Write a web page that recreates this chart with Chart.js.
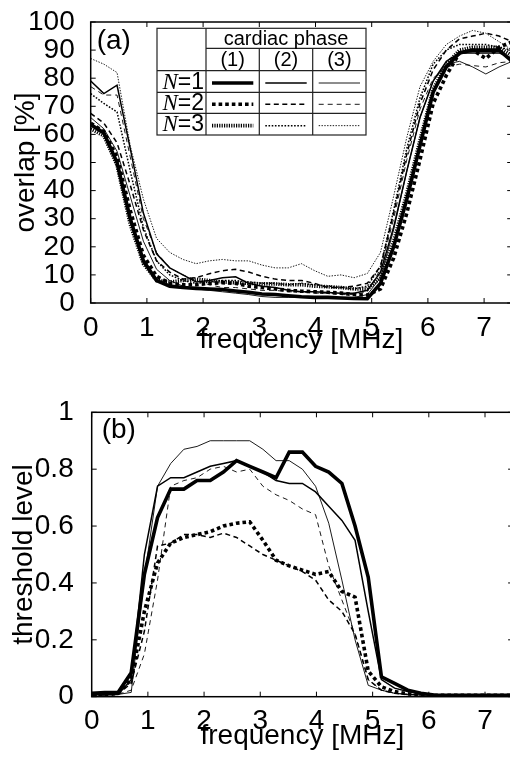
<!DOCTYPE html>
<html><head><meta charset="utf-8">
<script src="https://cdn.jsdelivr.net/npm/chart.js@4.4.1/dist/chart.umd.min.js"></script>
<style>
html,body{margin:0;padding:0;background:#fff;width:510px;height:758px;overflow:hidden;position:relative;}
canvas{position:absolute;left:0;}
#ca{top:0;} #cb{top:380px;}
</style></head><body>
<canvas id="ca" width="514" height="360"></canvas>
<canvas id="cb" width="514" height="378"></canvas>
<script>
// ---------- data ----------
const freq = [0, 0.2344, 0.4688, 0.7031, 0.9375, 1.1719, 1.4063, 1.6406, 1.875, 2.1094, 2.3438, 2.5781, 2.8125, 3.0469, 3.2813, 3.5156, 3.75, 3.9844, 4.2188, 4.4531, 4.6875, 4.9219, 5.1563, 5.3906, 5.625, 5.8594, 6.0938, 6.3281, 6.5625, 6.7969, 7.0313, 7.2656, 7.5];
const xTicks = [0, 1, 2, 3, 4, 5, 6, 7];
const overlapTicks = [0, 10, 20, 30, 40, 50, 60, 70, 80, 90, 100];
const thresholdTicks = [0, 0.2, 0.4, 0.6, 0.8, 1];
const thresholdTickLabels = ['0', '0.2', '0.4', '0.6', '0.8', '1'];
const phaseLabels = ['(1)', '(2)', '(3)'];
const nLabels = ['1', '2', '3'];

// overlap [%]  (panel a)   N = 1..3, cardiac phase (1)..(3)
const overlapN1P1 = [63.5,60.5,50,30,15,8,6,5.5,5.2,5,4.8,4.3,3.8,3.2,3,2.6,2.2,2,2,1.8,1.6,1.5,7,20,37,56,75,84,89,90,90,90,86];
const overlapN1P2 = [79,74.5,77.5,55,32,17.5,12.5,10,7.5,8,9,9.3,7,6,5.5,4.5,4,4,3.7,3.5,3.5,4.5,11,27,47,66,79,86,89,89,89,89,87];
const overlapN1P3 = [66,62,54,38,22,12,8,6,5,4.5,4,3.5,3,2.3,2,2,2,2,2,2,2,3,9,26,47,66,79,85,86,84,81.5,84,86];
const overlapN2P1 = [64,61,52,33,17,9.5,7,6.5,6.5,7,7.2,7,6,5.5,5,4.5,4.2,4,3.8,3.5,3,2.8,5,16,32,51,71,81,89,90,87,91,93];
const overlapN2P2 = [67.5,64,57,42,26,15,11,8.5,9,10.4,11.5,12,11,9.5,8.5,8,8,7,5.5,5.5,6,7,13,32,53,71,83,90,94,95,96,95,93];
const overlapN2P3 = [77,74,74,52,30,18,12.5,10,8,6.5,5.5,5.5,5,4.5,4.5,4,4,3.5,3.5,3,3,4,12,30,51,69,80,84,85,84.5,84,85.5,86];
const overlapN3P1 = [62,59.5,49,28,14,8,7.5,8,8.5,8,7.5,7.2,7,6.8,6.8,6.5,6.5,6,5.8,5.5,5,5,9,22,39,58,76,85,90,91,91,91,88];
const overlapN3P2 = [74.5,71,68,47,27,15,10,8,7,7.5,8,8,7.5,7,7,6.5,7,6.5,6,5.5,5,6,13,33,55,73,85,90,92,92,92,91,90];
const overlapN3P3 = [87,85,82,56,37,23,18,15.5,14,15,15.5,15,15,13.5,12.5,12.5,14,11.5,9.5,10,9,10.5,18,38,59,77,86,92,95,97,96,93,90];

// threshold level (panel b)
const thresholdN1P1 = [0.012,0.015,0.015,0.084,0.43,0.63,0.73,0.73,0.76,0.76,0.79,0.83,0.81,0.79,0.77,0.86,0.86,0.81,0.79,0.75,0.60,0.42,0.07,0.047,0.023,0.012,0.006,0.005,0.005,0.005,0.005,0.005,0.005];
const thresholdN1P2 = [0.006,0.008,0.008,0.06,0.5,0.74,0.77,0.77,0.79,0.81,0.82,0.83,0.81,0.79,0.76,0.75,0.75,0.72,0.67,0.62,0.55,0.3,0.06,0.03,0.018,0.01,0.006,0.005,0.005,0.005,0.005,0.005,0.005];
const thresholdN1P3 = [0.006,0.008,0.008,0.015,0.42,0.74,0.82,0.87,0.88,0.9,0.9,0.9,0.9,0.87,0.83,0.83,0.8,0.74,0.61,0.41,0.2,0.04,0.023,0.012,0.008,0.006,0.005,0.005,0.005,0.005,0.005,0.005,0.005];
const thresholdN2P1 = [0.005,0.005,0.012,0.06,0.3,0.47,0.54,0.56,0.57,0.58,0.6,0.61,0.615,0.55,0.48,0.46,0.445,0.43,0.44,0.37,0.35,0.09,0.035,0.018,0.01,0.006,0.005,0.005,0.005,0.005,0.005,0.005,0.005];
const thresholdN2P2 = [0.005,0.006,0.01,0.047,0.23,0.53,0.54,0.57,0.57,0.56,0.575,0.56,0.53,0.5,0.48,0.46,0.44,0.41,0.34,0.3,0.22,0.06,0.023,0.012,0.008,0.006,0.005,0.005,0.005,0.005,0.005,0.005,0.005];
const thresholdN2P3 = [0.005,0.006,0.008,0.023,0.15,0.41,0.74,0.76,0.77,0.8,0.81,0.79,0.8,0.74,0.71,0.69,0.66,0.64,0.46,0.34,0.22,0.06,0.023,0.012,0.008,0.006,0.005,0.005,0.005,0.005,0.005,0.005,0.005];

// ---------- styles ----------
const FONT = 'Liberation Sans';
const widths = [3.6, 1.5, 0.9];
function dashFor(n, p) {
  if (n === 1) return [];
  if (n === 2) return [[3.6, 3], [5, 3.5], [5, 4]][p];
  return [[1.2, 1.2], [1.6, 1.6], [1.4, 1.4]][p];
}
function ds(vals, n, p) {
  return {
    data: vals.map((v, i) => ({x: freq[i], y: v})),
    borderColor: '#000', borderWidth: widths[p], borderDash: dashFor(n, p),
    pointRadius: 0, tension: 0, fill: false, borderCapStyle: 'butt'
  };
}

const framePlugin = {
  id: 'frame',
  afterDatasetsDraw(chart, args, opts) {
    const {ctx, chartArea: a, scales: {x, y}} = chart;
    ctx.save();
    ctx.strokeStyle = '#000';
    ctx.lineWidth = 1.5;
    ctx.strokeRect(a.left, a.top, a.right - a.left, a.bottom - a.top);
    ctx.lineWidth = 1;
    const L = 5;
    ctx.beginPath();
    x.ticks.forEach(t => {
      const px = x.getPixelForValue(t.value);
      ctx.moveTo(px, a.bottom); ctx.lineTo(px, a.bottom - L);
      ctx.moveTo(px, a.top); ctx.lineTo(px, a.top + L);
    });
    y.ticks.forEach(t => {
      const py = y.getPixelForValue(t.value);
      ctx.moveTo(a.left, py); ctx.lineTo(a.left + L, py);
      ctx.moveTo(a.right, py); ctx.lineTo(a.right - L, py);
    });
    ctx.stroke();
    ctx.fillStyle = '#000';
    ctx.font = '28px "' + FONT + '"';
    ctx.textBaseline = 'middle';
    ctx.textAlign = 'left';
    ctx.fillText(opts.label, a.left + opts.dx, a.top + opts.dy);
    ctx.restore();
  }
};

const legendPlugin = {
  id: 'tableLegend',
  afterDraw(chart) {
    const ctx = chart.ctx;
    const L = 157, R = 366, T = 28.3, B = 135;
    const c0 = 206, cols = [206, 259.3, 312.7, 366];
    const rows = [48.3, 70.7, 92.3, 113.3, 135];
    ctx.save();
    ctx.fillStyle = '#fff';
    ctx.fillRect(L, T, R - L, B - T);
    ctx.strokeStyle = '#222';
    ctx.lineWidth = 1.2;
    ctx.strokeRect(L, T, R - L, B - T);
    ctx.beginPath();
    ctx.moveTo(c0, T); ctx.lineTo(c0, B);
    ctx.moveTo(c0, rows[0]); ctx.lineTo(R, rows[0]);
    for (let i = 1; i < 4; i++) { ctx.moveTo(L, rows[i]); ctx.lineTo(R, rows[i]); }
    ctx.moveTo(cols[1], rows[0]); ctx.lineTo(cols[1], B);
    ctx.moveTo(cols[2], rows[0]); ctx.lineTo(cols[2], B);
    ctx.stroke();
    ctx.fillStyle = '#000';
    ctx.textBaseline = 'middle';
    ctx.textAlign = 'center';
    ctx.font = '20px "' + FONT + '"';
    ctx.fillText('cardiac phase', (c0 + R) / 2, (T + rows[0]) / 2 + 1);
    for (let p = 0; p < 3; p++) ctx.fillText(phaseLabels[p], (cols[p] + cols[p + 1]) / 2, (rows[0] + rows[1]) / 2 + 1);
    for (let n = 0; n < 3; n++) {
      const cy = (rows[n + 1] + rows[n + 2]) / 2 + 1;
      ctx.textAlign = 'left';
      ctx.font = '23px "' + FONT + '"';
      const tail = '=' + nLabels[n];
      const wt = ctx.measureText(tail).width;
      ctx.font = 'italic 23px "Liberation Serif"';
      const wn = ctx.measureText('N').width;
      const xs = c0 - 2 - wt - wn;
      ctx.fillText('N', xs, cy);
      ctx.font = '23px "' + FONT + '"';
      ctx.fillText(tail, xs + wn, cy);
      for (let p = 0; p < 3; p++) {
        ctx.beginPath();
        ctx.setLineDash(dashFor(n + 1, p));
        ctx.lineWidth = widths[p];
        ctx.strokeStyle = '#000';
        ctx.moveTo(cols[p] + 6, cy + 0.5);
        ctx.lineTo(cols[p + 1] - 6, cy + 0.5);
        ctx.stroke();
      }
      ctx.setLineDash([]);
    }
    ctx.restore();
  }
};

function makeChart(id, datasets, o) {
  return new Chart(document.getElementById(id), {
    type: 'line',
    data: {datasets},
    plugins: o.plugins,
    options: {
      responsive: false, animation: false, devicePixelRatio: 1,
      layout: {padding: {left: 0, top: o.top, right: o.right, bottom: 0}},
      plugins: {legend: {display: false}, tooltip: {enabled: false}, frame: {label: o.label, dx: o.dx, dy: o.dy}},
      scales: {
        x: {
          type: 'linear', min: 0, max: 7.5,
          grid: {display: false}, border: {display: false},
          afterBuildTicks: s => { s.ticks = xTicks.map(v => ({value: v})); },
          afterFit: s => { s.height = o.xh; },
          ticks: {color: '#000', padding: 3, maxRotation: 0, autoSkip: false,
                  font: {family: FONT, size: 28, lineHeight: 1}, callback: v => String(v)},
          title: {display: true, text: 'frequency [MHz]', color: '#000',
                  font: {family: FONT, size: 28, lineHeight: 1}, padding: {top: 0, bottom: o.xtpb}}
        },
        y: {
          type: 'linear', min: o.ymin, max: o.ymax,
          grid: {display: false}, border: {display: false},
          afterBuildTicks: s => { s.ticks = o.yticks.map(v => ({value: v})); },
          afterFit: s => { s.width = o.yw; },
          ticks: {color: '#000', padding: o.ypad, autoSkip: false,
                  font: {family: FONT, size: 28, lineHeight: 1}, callback: o.ycb},
          title: {display: true, text: o.ytitle, color: '#000',
                  font: {family: FONT, size: 28, lineHeight: 1}, padding: {top: o.ytpt, bottom: 0}}
        }
      }
    }
  });
}

makeChart('ca', [
  ds(overlapN1P1, 1, 0), ds(overlapN2P1, 2, 0), ds(overlapN3P1, 3, 0),
  ds(overlapN1P2, 1, 1), ds(overlapN2P2, 2, 1), ds(overlapN3P2, 3, 1),
  ds(overlapN1P3, 1, 2), ds(overlapN2P3, 2, 2), ds(overlapN3P3, 3, 2)
], {
  plugins: [framePlugin, legendPlugin], label: '(a)', dx: 6, dy: 19,
  top: 17, right: 1.8, xh: 57, xtpb: 6, yw: 90.7, ypad: 8, ytpt: 12,
  ymin: 0, ymax: 100, yticks: overlapTicks, ytitle: 'overlap [%]', ycb: v => String(v)
});

makeChart('cb', [
  ds(thresholdN1P1, 1, 0), ds(thresholdN2P1, 2, 0),
  ds(thresholdN1P2, 1, 1), ds(thresholdN2P2, 2, 1),
  ds(thresholdN1P3, 1, 2), ds(thresholdN2P3, 2, 2)
], {
  plugins: [framePlugin], label: '(b)', dx: 10, dy: 18,
  top: 32.3, right: 0.9, xh: 61.3, xtpb: 8, yw: 91.7, ypad: 10, ytpt: 10,
  ymin: 0, ymax: 1, yticks: thresholdTicks, ytitle: 'threshold level',
  ycb: v => thresholdTickLabels[thresholdTicks.indexOf(v)]
});
</script>
</body></html>
